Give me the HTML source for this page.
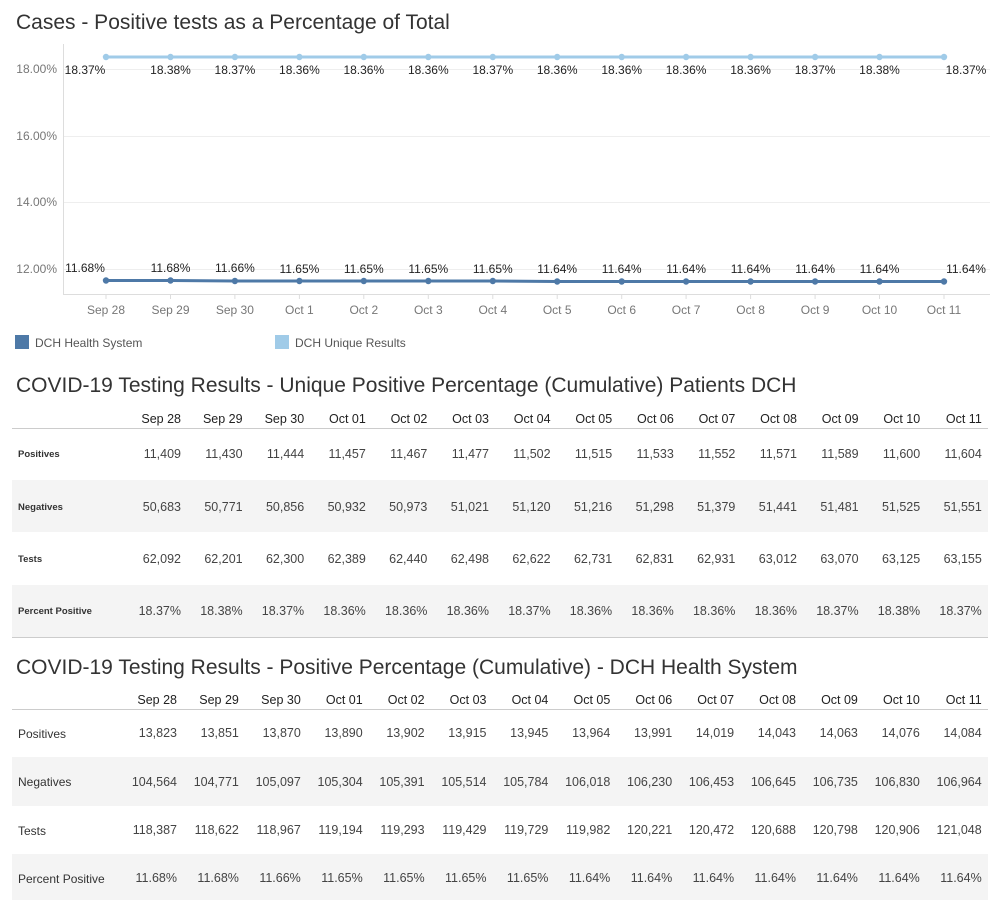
<!DOCTYPE html>
<html><head><meta charset="utf-8"><style>
html,body{margin:0;padding:0;background:#fff}
svg{display:block}
text{font-family:"Liberation Sans",Arial,sans-serif}
.t{font-size:21px;fill:#333}
.ax{font-size:12px;fill:#777}
.dl{font-size:12px;fill:#222}
.n{font-size:12.5px;fill:#444;text-anchor:end}
.h{font-size:12.5px;fill:#222;text-anchor:end}
.r1{font-size:9.5px;fill:#333;font-weight:600}
.r2{font-size:12px;fill:#333}
</style></head><body>
<svg width="1000" height="900" viewBox="0 0 1000 900">
<text class="t" x="16" y="29">Cases - Positive tests as a Percentage of Total</text>
<g stroke="#eee" stroke-width="1">
<line x1="63" y1="69.5" x2="990" y2="69.5"/><line x1="63" y1="136.5" x2="990" y2="136.5"/>
<line x1="63" y1="202.5" x2="990" y2="202.5"/><line x1="63" y1="269.5" x2="990" y2="269.5"/>
</g>
<line x1="63.5" y1="44" x2="63.5" y2="294" stroke="#ddd"/>
<line x1="63" y1="294.5" x2="990" y2="294.5" stroke="#ddd"/>
<g class="ax" text-anchor="end">
<text x="57" y="73">18.00%</text><text x="57" y="140">16.00%</text><text x="57" y="206">14.00%</text><text x="57" y="273">12.00%</text>
</g>
<g stroke="#ddd"><line x1="106" y1="294" x2="106" y2="299"/><line x1="170.5" y1="294" x2="170.5" y2="299"/><line x1="234.9" y1="294" x2="234.9" y2="299"/><line x1="299.4" y1="294" x2="299.4" y2="299"/><line x1="363.8" y1="294" x2="363.8" y2="299"/><line x1="428.3" y1="294" x2="428.3" y2="299"/><line x1="492.8" y1="294" x2="492.8" y2="299"/><line x1="557.2" y1="294" x2="557.2" y2="299"/><line x1="621.7" y1="294" x2="621.7" y2="299"/><line x1="686.1" y1="294" x2="686.1" y2="299"/><line x1="750.6" y1="294" x2="750.6" y2="299"/><line x1="815.1" y1="294" x2="815.1" y2="299"/><line x1="879.5" y1="294" x2="879.5" y2="299"/><line x1="944" y1="294" x2="944" y2="299"/></g>
<g class="ax" text-anchor="middle">
<text x="106" y="314">Sep 28</text><text x="170.5" y="314">Sep 29</text><text x="234.9" y="314">Sep 30</text><text x="299.4" y="314">Oct 1</text><text x="363.8" y="314">Oct 2</text><text x="428.3" y="314">Oct 3</text><text x="492.8" y="314">Oct 4</text><text x="557.2" y="314">Oct 5</text><text x="621.7" y="314">Oct 6</text><text x="686.1" y="314">Oct 7</text><text x="750.6" y="314">Oct 8</text><text x="815.1" y="314">Oct 9</text><text x="879.5" y="314">Oct 10</text><text x="944" y="314">Oct 11</text>
</g>
<polyline fill="none" stroke="#a0cbe8" stroke-width="3" points="106,57 944,57"/>
<g fill="#a0cbe8"><circle cx="106" cy="57" r="3.2"/><circle cx="170.5" cy="57" r="3.2"/><circle cx="234.9" cy="57" r="3.2"/><circle cx="299.4" cy="57" r="3.2"/><circle cx="363.8" cy="57" r="3.2"/><circle cx="428.3" cy="57" r="3.2"/><circle cx="492.8" cy="57" r="3.2"/><circle cx="557.2" cy="57" r="3.2"/><circle cx="621.7" cy="57" r="3.2"/><circle cx="686.1" cy="57" r="3.2"/><circle cx="750.6" cy="57" r="3.2"/><circle cx="815.1" cy="57" r="3.2"/><circle cx="879.5" cy="57" r="3.2"/><circle cx="944" cy="57" r="3.2"/></g>
<polyline fill="none" stroke="#4e79a7" stroke-width="3" points="106,280.5 170.5,280.5 234.9,281 299.4,281 363.8,281 428.3,281 492.8,281 557.2,281.5 621.7,281.5 686.1,281.5 750.6,281.5 815.1,281.5 879.5,281.5 944,281.5"/>
<g fill="#4e79a7"><circle cx="106" cy="280.5" r="3.2"/><circle cx="170.5" cy="280.5" r="3.2"/><circle cx="234.9" cy="281" r="3.2"/><circle cx="299.4" cy="281" r="3.2"/><circle cx="363.8" cy="281" r="3.2"/><circle cx="428.3" cy="281" r="3.2"/><circle cx="492.8" cy="281" r="3.2"/><circle cx="557.2" cy="281.5" r="3.2"/><circle cx="621.7" cy="281.5" r="3.2"/><circle cx="686.1" cy="281.5" r="3.2"/><circle cx="750.6" cy="281.5" r="3.2"/><circle cx="815.1" cy="281.5" r="3.2"/><circle cx="879.5" cy="281.5" r="3.2"/><circle cx="944" cy="281.5" r="3.2"/></g>
<g class="dl" text-anchor="middle">
<text x="85" y="74">18.37%</text><text x="170.5" y="74">18.38%</text><text x="234.9" y="74">18.37%</text><text x="299.4" y="74">18.36%</text><text x="363.8" y="74">18.36%</text><text x="428.3" y="74">18.36%</text><text x="492.8" y="74">18.37%</text><text x="557.2" y="74">18.36%</text><text x="621.7" y="74">18.36%</text><text x="686.1" y="74">18.36%</text><text x="750.6" y="74">18.36%</text><text x="815.1" y="74">18.37%</text><text x="879.5" y="74">18.38%</text><text x="966" y="74">18.37%</text>
<text x="85" y="272">11.68%</text><text x="170.5" y="272">11.68%</text><text x="234.9" y="272">11.66%</text><text x="299.4" y="273">11.65%</text><text x="363.8" y="273">11.65%</text><text x="428.3" y="273">11.65%</text><text x="492.8" y="273">11.65%</text><text x="557.2" y="273">11.64%</text><text x="621.7" y="273">11.64%</text><text x="686.1" y="273">11.64%</text><text x="750.6" y="273">11.64%</text><text x="815.1" y="273">11.64%</text><text x="879.5" y="273">11.64%</text><text x="966" y="273">11.64%</text>
</g>
<rect x="15" y="335" width="14" height="14" fill="#4e79a7"/>
<text x="35" y="347" style="font-size:12px;fill:#555">DCH Health System</text>
<rect x="275" y="335" width="14" height="14" fill="#a0cbe8"/>
<text x="295" y="347" style="font-size:12px;fill:#555">DCH Unique Results</text>

<text class="t" x="16" y="392">COVID-19 Testing Results - Unique Positive Percentage (Cumulative) Patients DCH</text>
<rect x="12" y="480" width="976" height="52" fill="#f4f4f4"/>
<rect x="12" y="585" width="976" height="52" fill="#f4f4f4"/>
<line x1="12" y1="428.5" x2="988" y2="428.5" stroke="#ccc"/>
<line x1="12" y1="637.5" x2="988" y2="637.5" stroke="#ccc"/>
<g class="h"><text x="181" y="423">Sep 28</text><text x="242.6" y="423">Sep 29</text><text x="304.2" y="423">Sep 30</text><text x="365.8" y="423">Oct 01</text><text x="427.4" y="423">Oct 02</text><text x="489" y="423">Oct 03</text><text x="550.6" y="423">Oct 04</text><text x="612.2" y="423">Oct 05</text><text x="673.8" y="423">Oct 06</text><text x="735.4" y="423">Oct 07</text><text x="797" y="423">Oct 08</text><text x="858.6" y="423">Oct 09</text><text x="920.2" y="423">Oct 10</text><text x="981.8" y="423">Oct 11</text></g>
<g class="r1"><text x="18" y="457">Positives</text><text x="18" y="510">Negatives</text><text x="18" y="562">Tests</text><text x="18" y="614">Percent Positive</text></g>
<g class="n">
<text x="181" y="458">11,409</text><text x="242.6" y="458">11,430</text><text x="304.2" y="458">11,444</text><text x="365.8" y="458">11,457</text><text x="427.4" y="458">11,467</text><text x="489" y="458">11,477</text><text x="550.6" y="458">11,502</text><text x="612.2" y="458">11,515</text><text x="673.8" y="458">11,533</text><text x="735.4" y="458">11,552</text><text x="797" y="458">11,571</text><text x="858.6" y="458">11,589</text><text x="920.2" y="458">11,600</text><text x="981.8" y="458">11,604</text>
<text x="181" y="511">50,683</text><text x="242.6" y="511">50,771</text><text x="304.2" y="511">50,856</text><text x="365.8" y="511">50,932</text><text x="427.4" y="511">50,973</text><text x="489" y="511">51,021</text><text x="550.6" y="511">51,120</text><text x="612.2" y="511">51,216</text><text x="673.8" y="511">51,298</text><text x="735.4" y="511">51,379</text><text x="797" y="511">51,441</text><text x="858.6" y="511">51,481</text><text x="920.2" y="511">51,525</text><text x="981.8" y="511">51,551</text>
<text x="181" y="563">62,092</text><text x="242.6" y="563">62,201</text><text x="304.2" y="563">62,300</text><text x="365.8" y="563">62,389</text><text x="427.4" y="563">62,440</text><text x="489" y="563">62,498</text><text x="550.6" y="563">62,622</text><text x="612.2" y="563">62,731</text><text x="673.8" y="563">62,831</text><text x="735.4" y="563">62,931</text><text x="797" y="563">63,012</text><text x="858.6" y="563">63,070</text><text x="920.2" y="563">63,125</text><text x="981.8" y="563">63,155</text>
<text x="181" y="615">18.37%</text><text x="242.6" y="615">18.38%</text><text x="304.2" y="615">18.37%</text><text x="365.8" y="615">18.36%</text><text x="427.4" y="615">18.36%</text><text x="489" y="615">18.36%</text><text x="550.6" y="615">18.37%</text><text x="612.2" y="615">18.36%</text><text x="673.8" y="615">18.36%</text><text x="735.4" y="615">18.36%</text><text x="797" y="615">18.36%</text><text x="858.6" y="615">18.37%</text><text x="920.2" y="615">18.38%</text><text x="981.8" y="615">18.37%</text>
</g>

<text class="t" x="16" y="674">COVID-19 Testing Results - Positive Percentage (Cumulative) - DCH Health System</text>
<rect x="12" y="757" width="976" height="49" fill="#f4f4f4"/>
<rect x="12" y="854" width="976" height="46" fill="#f4f4f4"/>
<line x1="12" y1="709.5" x2="988" y2="709.5" stroke="#ccc"/>
<g class="h"><text x="177" y="704">Sep 28</text><text x="238.9" y="704">Sep 29</text><text x="300.8" y="704">Sep 30</text><text x="362.7" y="704">Oct 01</text><text x="424.6" y="704">Oct 02</text><text x="486.5" y="704">Oct 03</text><text x="548.4" y="704">Oct 04</text><text x="610.3" y="704">Oct 05</text><text x="672.2" y="704">Oct 06</text><text x="734.1" y="704">Oct 07</text><text x="796" y="704">Oct 08</text><text x="857.9" y="704">Oct 09</text><text x="919.8" y="704">Oct 10</text><text x="981.7" y="704">Oct 11</text></g>
<g class="r2"><text x="18" y="738">Positives</text><text x="18" y="786">Negatives</text><text x="18" y="835">Tests</text><text x="18" y="883">Percent Positive</text></g>
<g class="n">
<text x="177" y="737">13,823</text><text x="238.9" y="737">13,851</text><text x="300.8" y="737">13,870</text><text x="362.7" y="737">13,890</text><text x="424.6" y="737">13,902</text><text x="486.5" y="737">13,915</text><text x="548.4" y="737">13,945</text><text x="610.3" y="737">13,964</text><text x="672.2" y="737">13,991</text><text x="734.1" y="737">14,019</text><text x="796" y="737">14,043</text><text x="857.9" y="737">14,063</text><text x="919.8" y="737">14,076</text><text x="981.7" y="737">14,084</text>
<text x="177" y="786">104,564</text><text x="238.9" y="786">104,771</text><text x="300.8" y="786">105,097</text><text x="362.7" y="786">105,304</text><text x="424.6" y="786">105,391</text><text x="486.5" y="786">105,514</text><text x="548.4" y="786">105,784</text><text x="610.3" y="786">106,018</text><text x="672.2" y="786">106,230</text><text x="734.1" y="786">106,453</text><text x="796" y="786">106,645</text><text x="857.9" y="786">106,735</text><text x="919.8" y="786">106,830</text><text x="981.7" y="786">106,964</text>
<text x="177" y="834">118,387</text><text x="238.9" y="834">118,622</text><text x="300.8" y="834">118,967</text><text x="362.7" y="834">119,194</text><text x="424.6" y="834">119,293</text><text x="486.5" y="834">119,429</text><text x="548.4" y="834">119,729</text><text x="610.3" y="834">119,982</text><text x="672.2" y="834">120,221</text><text x="734.1" y="834">120,472</text><text x="796" y="834">120,688</text><text x="857.9" y="834">120,798</text><text x="919.8" y="834">120,906</text><text x="981.7" y="834">121,048</text>
<text x="177" y="882">11.68%</text><text x="238.9" y="882">11.68%</text><text x="300.8" y="882">11.66%</text><text x="362.7" y="882">11.65%</text><text x="424.6" y="882">11.65%</text><text x="486.5" y="882">11.65%</text><text x="548.4" y="882">11.65%</text><text x="610.3" y="882">11.64%</text><text x="672.2" y="882">11.64%</text><text x="734.1" y="882">11.64%</text><text x="796" y="882">11.64%</text><text x="857.9" y="882">11.64%</text><text x="919.8" y="882">11.64%</text><text x="981.7" y="882">11.64%</text>
</g>
</svg>
</body></html>
